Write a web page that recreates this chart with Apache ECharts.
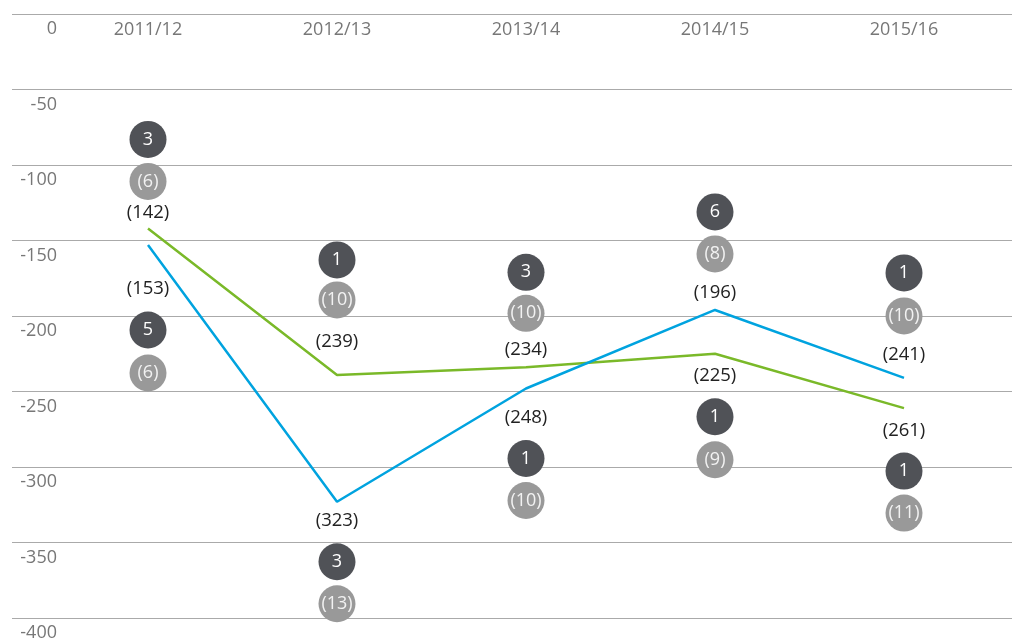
<!DOCTYPE html>
<html>
<head>
<meta charset="utf-8">
<script src="https://cdn.jsdelivr.net/npm/echarts@6/dist/echarts.min.js"></script>
<style>
  html, body { margin: 0; padding: 0; background: #fff; }
  #main { width: 1012px; height: 643px; }
</style>
</head>
<body>
<div id="main"></div>
<script>
// 年度
var years = ['2011/12', '2012/13', '2013/14', '2014/15', '2015/16'];

// 两条折线的数值
var greenValues = [-142, -239, -234, -225, -261];
var blueValues = [-153, -323, -248, -196, -241];

// 圆圈里的数字：深色 / 浅灰色
var greenDark = [3, 1, 3, 1, 1];
var greenGrey = [6, 10, 10, 9, 11];
var blueDark = [5, 3, 1, 6, 1];
var blueGrey = [6, 13, 10, 8, 10];

// 标签与圆圈相对折线点的像素偏移（布局用）
var greenLabelDy = [-16, -33, -18, 22, 23];
var greenDarkDy = [-89, -115, -95, 63, 63];
var greenGreyDy = [-47, -75, -54, 106, 105];
var blueLabelDy = [44, 19, 29, -17, -23];
var blueDarkDy = [85, 60, 70, -98, -105];
var blueGreyDy = [128, 102, 112, -56, -62];

var FONT = 'Open Sans';

function lineData(values, dys) {
    return values.map(function (v, i) {
        return {
            value: v,
            label: { offset: [0, dys[i]] }
        };
    });
}

function bubble(name, values, counts, dys, color, textColor, paren) {
    return {
        name: name,
        type: 'scatter',
        xAxisIndex: 1,
        yAxisIndex: 1,
        z: 5,
        symbol: 'circle',
        symbolSize: 37,
        itemStyle: { color: color, opacity: 1 },
        label: {
            show: true,
            position: 'inside',
            color: textColor,
            fontFamily: FONT,
            fontSize: 18,
            formatter: function (p) {
                var c = counts[p.dataIndex];
                return paren ? '(' + c + ')' : String(c);
            }
        },
        emphasis: { disabled: true },
        data: values.map(function (v, i) {
            return { value: [i, v], symbolOffset: [0, dys[i]] };
        })
    };
}

function valueLine(name, values, dys, color) {
    return {
        name: name,
        type: 'line',
        xAxisIndex: 1,
        yAxisIndex: 1,
        z: 3,
        symbol: 'circle',
        symbolSize: 0.1,
        lineStyle: { color: color, width: 2.5 },
        itemStyle: { color: color },
        label: {
            show: true,
            position: 'inside',
            color: '#222',
            fontFamily: FONT,
            fontSize: 18.5,
            formatter: function (p) { return '(' + Math.abs(p.value) + ')'; }
        },
        emphasis: { disabled: true },
        data: lineData(values, dys)
    };
}

var myChart = echarts.init(document.getElementById('main'));

myChart.setOption({
    animation: false,
    grid: [
        { left: 12, right: 0, top: 14, bottom: 25 },
        { left: 53.5, right: 13.5, top: 14, bottom: 25 }
    ],
    xAxis: [
        { gridIndex: 0, type: 'value', show: false, min: 0, max: 1 },
        {
            gridIndex: 1,
            type: 'category',
            position: 'top',
            data: years,
            axisLine: { show: false },
            axisTick: { show: false },
            axisLabel: {
                inside: true,
                margin: 7,
                color: '#777',
                fontFamily: FONT,
                fontSize: 18
            }
        }
    ],
    yAxis: [
        {
            gridIndex: 0,
            type: 'value',
            min: -400,
            max: 0,
            interval: 50,
            axisLine: { show: false },
            axisTick: { show: false },
            splitLine: { lineStyle: { color: '#aaa', width: 1 } },
            axisLabel: {
                inside: true,
                margin: 45,
                align: 'right',
                verticalAlign: 'top',
                padding: [6, 0, 0, 0],
                color: '#777',
                fontFamily: FONT,
                fontSize: 18
            }
        },
        {
            gridIndex: 1,
            type: 'value',
            min: -400,
            max: 0,
            show: false
        }
    ],
    series: [
        valueLine('green', greenValues, greenLabelDy, '#7ab929'),
        valueLine('blue', blueValues, blueLabelDy, '#00a3df'),
        bubble('greenDark', greenValues, greenDark, greenDarkDy, '#505257', '#fff', false),
        bubble('greenGrey', greenValues, greenGrey, greenGreyDy, '#999999', '#f2f2f2', true),
        bubble('blueDark', blueValues, blueDark, blueDarkDy, '#505257', '#fff', false),
        bubble('blueGrey', blueValues, blueGrey, blueGreyDy, '#999999', '#f2f2f2', true)
    ]
});
</script>
</body>
</html>
